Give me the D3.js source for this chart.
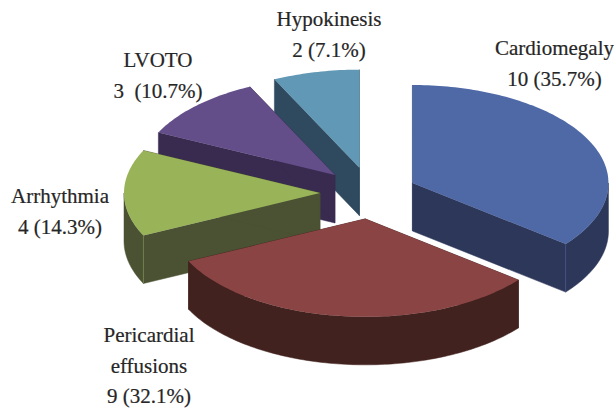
<!DOCTYPE html>
<html>
<head>
<meta charset="utf-8">
<script src="https://cdn.jsdelivr.net/npm/d3@7/dist/d3.min.js"></script>
<style>
  html, body { margin: 0; padding: 0; background: #fff; }
  svg { display: block; }
  text { font-family: "Liberation Serif", serif; font-size: 21px; fill: #262626; stroke: #262626; stroke-width: 0.2; white-space: pre; }
</style>
</head>
<body>
<svg id="chart" width="614" height="408"></svg>
<script>
// Causes, counts and printed shares
const categories = ["Cardiomegaly", "Pericardial effusions", "Arrhythmia", "LVOTO", "Hypokinesis"];
const counts = [10, 9, 4, 3, 2];
const shares = ["35.7", "32.1", "14.3", "10.7", "7.1"];

// Styling per slice
const topColors = ["#4f69a6", "#8b4444", "#99b359", "#644e8a", "#6098b5"];
const sideColors = ["#2d3759", "#42221f", "#4a5233", "#392b50", "#2f4a5e"];
const explode = [46, 52, 51, 51, 52];

// Text blocks: line breaks, anchor and first baseline
const labelLines = [["Cardiomegaly"], ["Pericardial", "effusions"], ["Arrhythmia"], ["LVOTO"], ["Hypokinesis"]];
const countGap = ["", "", "", " ", ""];
const labelAnchor = [[554.5, 55], [149, 342], [60, 203], [158, 67], [329, 26]];

const W = 614, H = 408;
const cx = 371, cy = 193, rx = 196, ry = 98, depth = 48;
const lineStep = 30.5;

const svg = d3.select("#chart");

const slices = d3.pie().sort(null).startAngle(0).endAngle(2 * Math.PI)(counts);

// Tilted pie: angle runs clockwise from twelve o'clock, radius is squashed vertically.
const scaleX = d3.scaleLinear().domain([-1, 1]).range([cx - rx, cx + rx]);
const scaleY = d3.scaleLinear().domain([-1, 1]).range([cy + ry, cy - ry]);

function project(slice, i, a, r, drop) {
  const mid = (slice.startAngle + slice.endAngle) / 2;
  const ex = explode[i] / rx;
  const u = r * Math.sin(a) + ex * Math.sin(mid);
  const v = r * Math.cos(a) + ex * Math.cos(mid);
  return [scaleX(u), scaleY(v) + drop];
}

function arcSamples(from, to) {
  const n = Math.max(2, Math.ceil((to - from) / 0.02));
  return d3.range(n + 1).map(k => from + (to - from) * k / n);
}

const outline = d3.line();

// Back-to-front paint order
const paintOrder = [4, 3, 2, 0, 1];

const groups = svg.selectAll("g.slice")
  .data(paintOrder.map(i => ({ s: slices[i], i })))
  .join("g")
  .attr("class", "slice");

groups.each(function ({ s, i }) {
  const g = d3.select(this);
  const side = sideColors[i];

  // Cut faces running from the apex to each end of the arc
  [s.startAngle, s.endAngle].forEach(a => {
    const pts = [
      project(s, i, a, 0, 0), project(s, i, a, 1, 0),
      project(s, i, a, 1, depth), project(s, i, a, 0, depth)
    ];
    g.append("path").attr("d", outline(pts) + "Z").attr("fill", side).attr("stroke", side).attr("stroke-width", 0.5);
  });

  // Outer wall, only along the near half of the rim
  const from = Math.max(s.startAngle, Math.PI / 2);
  const to = Math.min(s.endAngle, 3 * Math.PI / 2);
  if (to > from) {
    const angles = arcSamples(from, to);
    const pts = angles.map(a => project(s, i, a, 1, 0))
      .concat(angles.slice().reverse().map(a => project(s, i, a, 1, depth)));
    g.append("path").attr("d", outline(pts) + "Z").attr("fill", side).attr("stroke", side).attr("stroke-width", 0.5);

    // Faint seam where a cut face meets the wall
    [from, to].filter(a => a === s.startAngle || a === s.endAngle).forEach(a => {
      if (Math.abs(Math.sin(a)) < 0.95 && i !== 1) {
        g.append("path")
          .attr("d", outline([project(s, i, a, 1, 0), project(s, i, a, 1, depth)]))
          .attr("stroke", topColors[i])
          .attr("stroke-opacity", 0.4)
          .attr("stroke-width", 1)
          .attr("fill", "none");
      }
    });
  }

  // Top surface
  const rim = arcSamples(s.startAngle, s.endAngle).map(a => project(s, i, a, 1, 0));
  g.append("path")
    .attr("d", outline([project(s, i, 0, 0, 0), ...rim]) + "Z")
    .attr("fill", topColors[i]);
});

// Labels
categories.forEach((name, i) => {
  const lines = labelLines[i].concat([`${counts[i]} ${countGap[i]}(${shares[i]}%)`]);
  svg.append("g").selectAll("text")
    .data(lines)
    .join("text")
    .attr("x", labelAnchor[i][0])
    .attr("y", (d, k) => labelAnchor[i][1] + k * lineStep)
    .attr("text-anchor", "middle")
    .text(d => d);
});
</script>
</body>
</html>
